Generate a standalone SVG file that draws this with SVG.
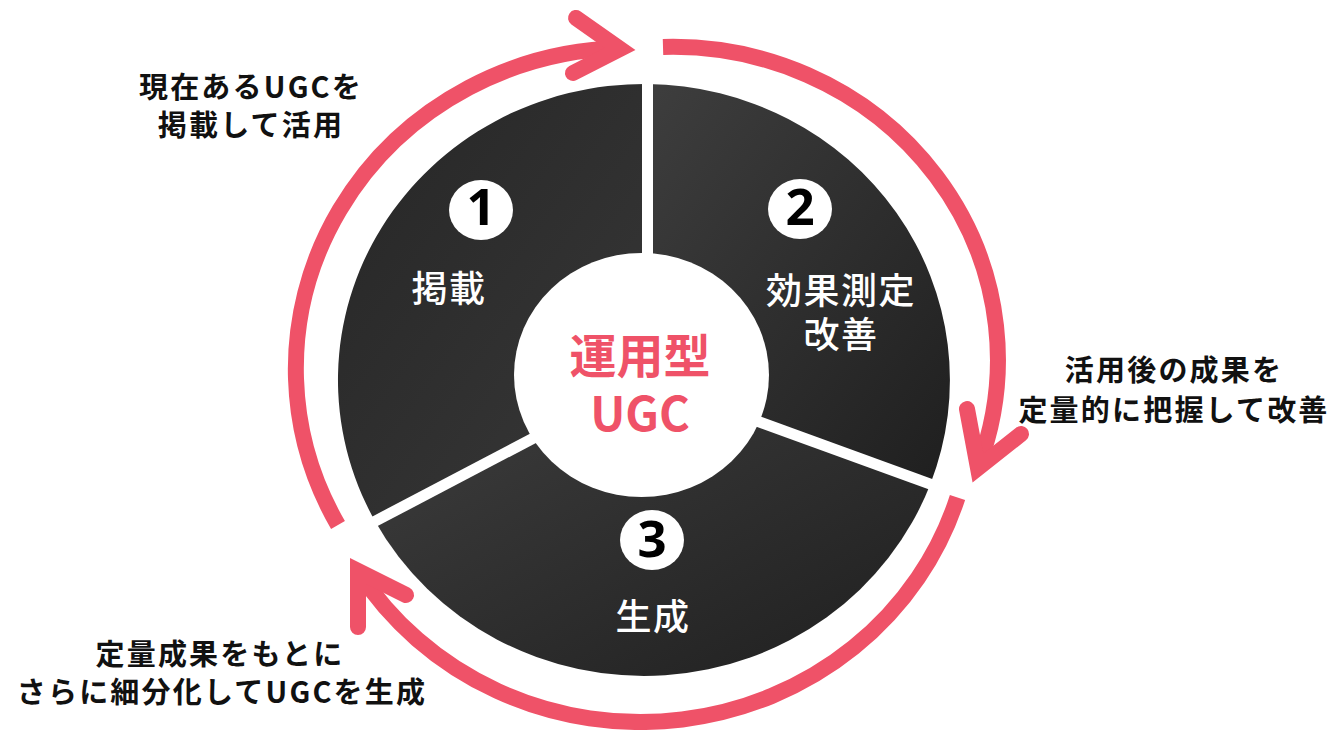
<svg xmlns="http://www.w3.org/2000/svg" width="1337" height="730" viewBox="0 0 1337 730">
<defs>
<linearGradient id="gSeg" x1="0" y1="0" x2="1" y2="1">
<stop offset="0" stop-color="#3e3e3e"/>
<stop offset="1" stop-color="#1f1f1f"/>
</linearGradient>
<linearGradient id="gLeft" x1="0" y1="0" x2="1" y2="1">
<stop offset="0" stop-color="#262626"/>
<stop offset="1" stop-color="#383838"/>
</linearGradient>
<style>
.seg{stroke:none}
.gap{stroke:#fff;stroke-width:11;stroke-linecap:butt;fill:none}
.ring{fill:none;stroke:#EF5268;stroke-width:16;stroke-linecap:butt}
.head{fill:none;stroke:#EF5268;stroke-width:16;stroke-linecap:round;stroke-linejoin:miter;stroke-miterlimit:10}
.badge{fill:#fff}
.num{font-family:"Noto Sans","Noto Sans CJK JP",sans-serif;font-weight:700;font-size:51px;fill:#000;text-anchor:middle}
.lbl{font-family:"Noto Sans CJK JP","Noto Sans",sans-serif;font-weight:500;font-size:36px;fill:#fff;text-anchor:middle;letter-spacing:1.5px}
.ctr{font-family:"Noto Sans CJK JP","Noto Sans",sans-serif;font-weight:700;font-size:47px;fill:#EF5268;text-anchor:middle}
.note{font-family:"Noto Sans CJK JP","Noto Sans",sans-serif;font-weight:700;font-size:29px;fill:#111;text-anchor:middle;letter-spacing:2.2px}
</style>
</defs>
<rect width="1337" height="730" fill="#fff"/>

<g id="connectors">
<path class="ring" d="M 338 525 A 334 321 0 0 1 621 48"/>
<polyline class="head" points="576,18 620,49 573,73"/>
<path class="ring" d="M 663 47 A 325.2 312.7 0 0 1 978.5 466"/>
<polyline class="head" points="967,409 978,468 1021,434"/>
<path class="ring" d="M 957.5 497.5 A 332.2 319.4 0 0 1 358 571"/>
<polyline class="head" points="358,627 358,571 406,595"/>
</g>

<g id="seg1">
<path class="seg" fill="url(#gLeft)" d="M 647.5 380 L 647.5 84 A 306 296 0 0 0 375.1 521.3 L 644 380 Z"/>
<ellipse class="badge" cx="481" cy="210" rx="32" ry="30"/>
<text class="num" x="481" y="225">1</text>
<text class="lbl" x="449" y="302">掲載</text>
</g>

<g id="seg2">
<path class="seg" fill="url(#gSeg)" d="M 647.5 380 L 647.5 84 A 306 296 0 0 1 930.4 484 L 644 380 Z"/>
<ellipse class="badge" cx="800" cy="209" rx="32" ry="30"/>
<text class="num" x="800" y="225">2</text>
<text class="lbl" x="841" y="304">効果測定</text>
<text class="lbl" x="841" y="348">改善</text>
</g>

<g id="seg3">
<path class="seg" fill="url(#gSeg)" d="M 644 380 L 930.4 484 A 306 296 0 0 1 375.1 521.3 Z"/>
<ellipse class="badge" cx="652" cy="540" rx="32" ry="30"/>
<text class="num" x="652" y="557">3</text>
<text class="lbl" x="653" y="630">生成</text>
</g>

<g id="gaps">
<line class="gap" x1="647.5" y1="78" x2="647.5" y2="380"/>
<line class="gap" x1="644" y1="380" x2="940" y2="487.6"/>
<line class="gap" x1="644" y1="380" x2="366" y2="526"/>
</g>

<g id="center">
<ellipse cx="641.5" cy="375" rx="127.5" ry="122" fill="#fff"/>
<text class="ctr" x="640" y="373">運用型</text>
<text class="ctr" x="640" y="431" font-size="49">UGC</text>
</g>

<g id="note1">
<text class="note" x="251" y="98">現在あるUGCを</text>
<text class="note" x="251" y="136">掲載して活用</text>
</g>
<g id="note2">
<text class="note" x="1174" y="381">活用後の成果を</text>
<text class="note" x="1174" y="421">定量的に把握して改善</text>
</g>
<g id="note3">
<text class="note" x="220" y="665">定量成果をもとに</text>
<text class="note" x="222" y="703">さらに細分化してUGCを生成</text>
</g>
</svg>
